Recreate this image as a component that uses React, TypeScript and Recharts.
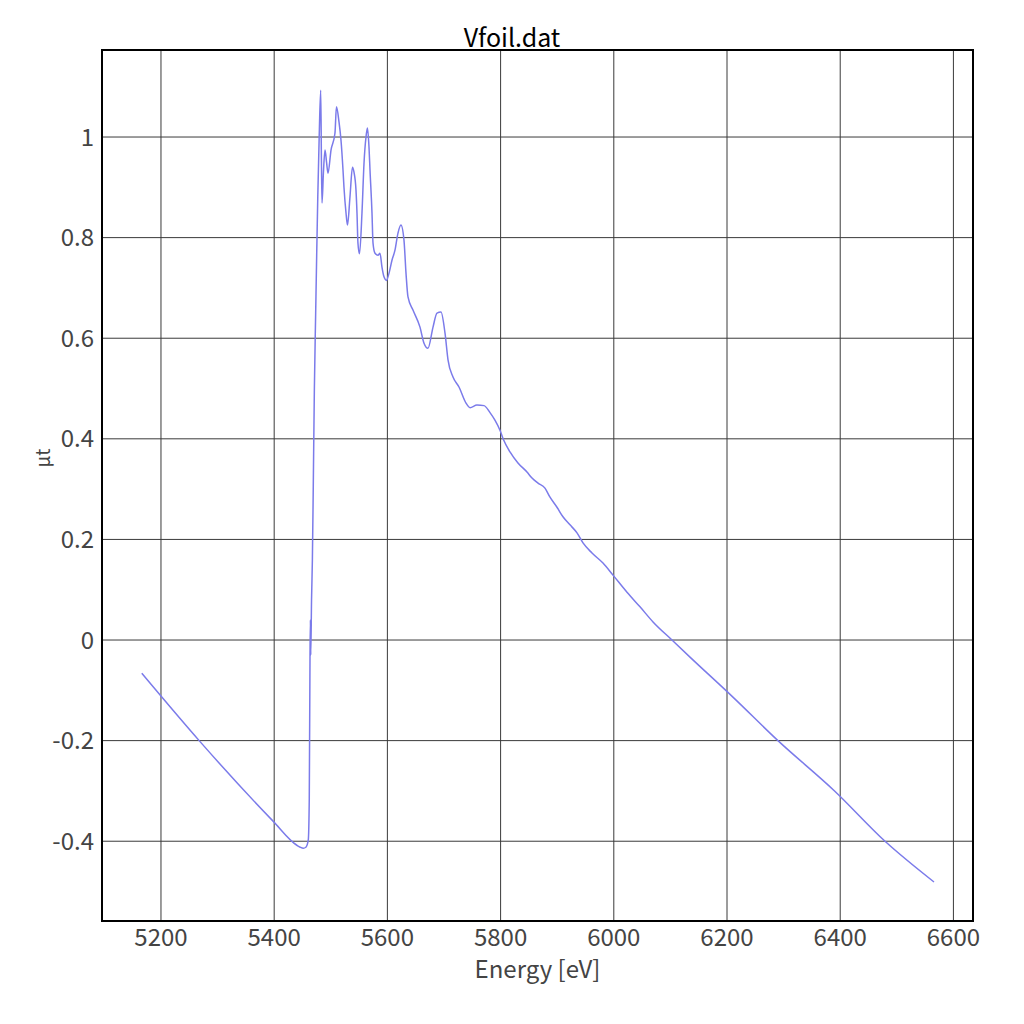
import { Line, LineChart, CartesianGrid, XAxis, YAxis, ReferenceArea } from 'recharts';

// energy [eV] and absorbance
const energy = [
  5166, 5269, 5398, 5440, 5446, 5451.4, 5456, 5460.2, 5462, 5463.3, 5464, 5464.6, 5466, 5467.5,
  5469, 5471, 5473.3, 5475, 5477, 5479.5, 5482.2, 5483.5, 5484.5, 5487, 5489.8, 5492.5, 5495.1,
  5500.4, 5507.4, 5510, 5514.5, 5518, 5521.6, 5523.3, 5526.9, 5529.5, 5533.9, 5538.3, 5541,
  5544.5, 5546.3, 5548, 5550.7, 5555.1, 5558.7, 5562.2, 5564.8, 5567.5, 5569.3, 5572.8, 5574.6,
  5578.1, 5583.4, 5586.9, 5590.5, 5594, 5598.4, 5602.8, 5608.1, 5613.4, 5618.7, 5624, 5629.3,
  5632.9, 5636.4, 5645.2, 5657.6, 5664.7, 5671.7, 5680.6, 5687.6, 5694.7, 5701.8, 5707.1,
  5715.9, 5726.5, 5738.9, 5746, 5758.3, 5770.7, 5781.3, 5790, 5798.9, 5804.8, 5816.6, 5830.7,
  5846.6, 5855.5, 5866.1, 5878.4, 5887.3, 5899.6, 5910.2, 5922.6, 5935, 5945.6, 5961.5, 5980.9,
  5998.6, 6023.3, 6046.3, 6069.3, 6102.8, 6134.6, 6210, 6290, 6390, 6479.2, 6565.7,
];
const mut = [
  -0.066, -0.202, -0.36, -0.408, -0.412, -0.414, -0.412, -0.398, -0.314, -0.03, 0.04, -0.03, 0.08,
  0.16, 0.3, 0.5, 0.65, 0.76, 0.88, 1.0, 1.093, 0.95, 0.869, 0.93, 0.974, 0.95, 0.928,
  0.974, 1.008, 1.06, 1.03, 0.994, 0.934, 0.9, 0.849, 0.825, 0.881, 0.94, 0.93,
  0.895, 0.849, 0.789, 0.768, 0.849, 0.948, 1.0, 1.018, 0.98, 0.934, 0.849, 0.789,
  0.769, 0.765, 0.769, 0.741, 0.722, 0.715, 0.729, 0.755, 0.775, 0.809, 0.825, 0.795,
  0.729, 0.682, 0.656, 0.622, 0.59, 0.58, 0.622, 0.65, 0.652, 0.61, 0.557,
  0.523, 0.503, 0.471, 0.462, 0.467, 0.466, 0.452, 0.437, 0.417, 0.399, 0.374, 0.352,
  0.334, 0.322, 0.312, 0.302, 0.284, 0.264, 0.245, 0.229, 0.213, 0.193, 0.173, 0.153,
  0.129, 0.095, 0.066, 0.036, 0.0, -0.034, -0.113, -0.2, -0.3, -0.4, -0.481,
];

const xTicks = [5200, 5400, 5600, 5800, 6000, 6200, 6400, 6600];
const yTicks = [-0.4, -0.2, 0, 0.2, 0.4, 0.6, 0.8, 1];

const X_DOMAIN: [number, number] = [5095.8, 6634.6];
const Y_DOMAIN: [number, number] = [-0.5586, 1.173];

const data = energy.map((e, i) => ({ e, v: mut[i] }));

const fmtY = (v: number) => (Math.abs(v) < 1e-9 ? '0' : Number.isInteger(v) ? String(v) : v.toFixed(1));

const FONT = '"Noto Sans CJK JP", "Noto Sans", sans-serif';

export default function App() {
  return (
    <div style={{ position: 'relative', width: 1016, height: 1000, fontFamily: FONT }}>
      <div style={{ position: 'absolute', left: 0, width: 1008, top: 15, textAlign: 'center', fontSize: 25, color: '#000', lineHeight: '26px' }}>
        Vfoil.dat
      </div>
      <div style={{ position: 'absolute', top: 950, left: 94, width: 871, textAlign: 'center', fontSize: 24, color: '#444', lineHeight: '20px' }}>
        Energy [eV]
      </div>
      <div
        style={{
          position: 'absolute',
          left: 14,
          top: 440,
          width: 40,
          textAlign: 'center',
          fontSize: 19,
          color: '#444',
          transform: 'rotate(-90deg)',
          lineHeight: '20px',
        }}
      >
        μt
      </div>
      <LineChart width={1016} height={1000} data={data} margin={{ top: 42, right: 51, left: 34, bottom: 27 }}>
        <CartesianGrid stroke="#3a3a3a" strokeWidth={1} verticalValues={xTicks} horizontalValues={yTicks} />
        <XAxis
          dataKey="e"
          type="number"
          domain={X_DOMAIN}
          ticks={xTicks}
          allowDataOverflow
          height={60}
          axisLine={false}
          tickLine={false}
          tick={{ fontSize: 24, fill: '#444', fontFamily: FONT }}
        />
        <YAxis
          type="number"
          domain={Y_DOMAIN}
          ticks={yTicks}
          allowDataOverflow
          width={60}
          axisLine={false}
          tickLine={false}
          tickFormatter={fmtY}
          tick={{ fontSize: 24, fill: '#444', fontFamily: FONT }}
        />
        <ReferenceArea
          x1={X_DOMAIN[0]}
          x2={X_DOMAIN[1]}
          y1={Y_DOMAIN[0]}
          y2={Y_DOMAIN[1]}
          stroke="#000"
          strokeWidth={2}
          fill="none"
          fillOpacity={0}
          ifOverflow="visible"
        />
        <Line type="monotone" dataKey="v" stroke="#7b7bea" strokeWidth={1.5} dot={false} isAnimationActive={false} />
      </LineChart>
    </div>
  );
}
